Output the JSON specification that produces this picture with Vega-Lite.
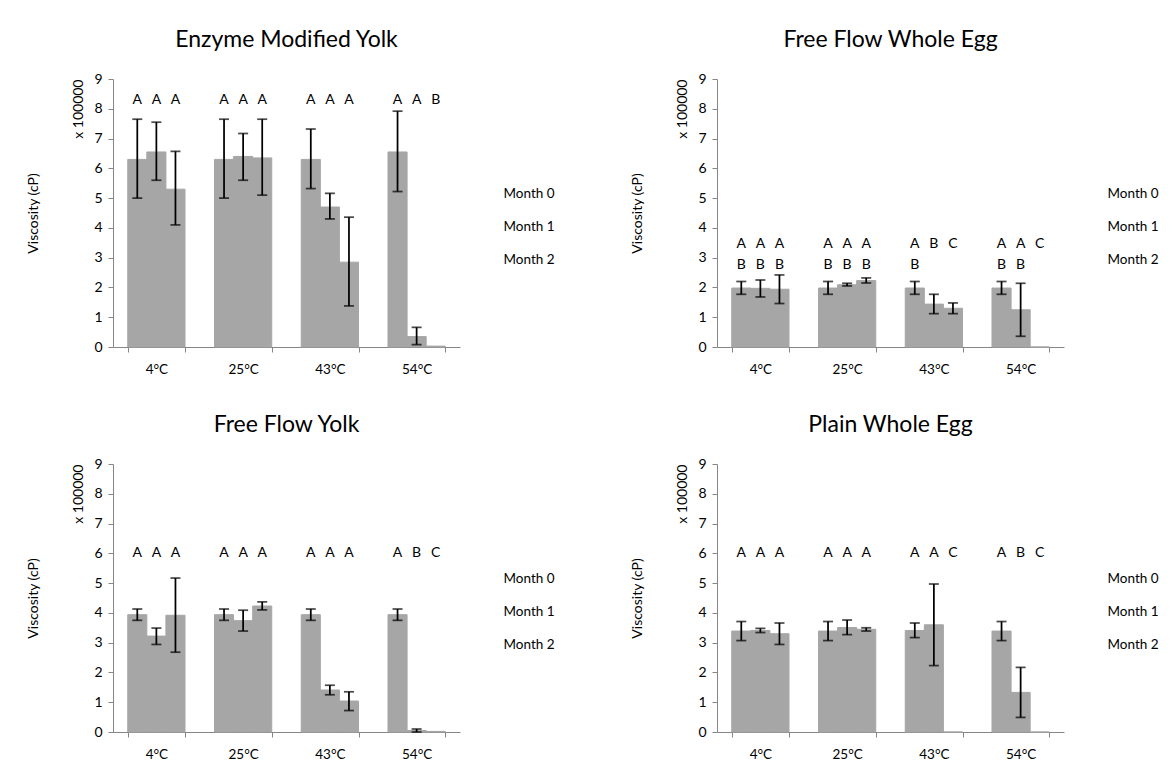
{
  "$schema": "https://vega.github.io/schema/vega-lite/v6.json",
  "padding": {"left": 26, "top": 29, "right": 0, "bottom": 0},
  "datasets": {
    "bars": [
      {"panel": "EMY", "temp": "4°C", "month": "Month 0", "v": 6.3, "lo": 5.0, "hi": 7.65},
      {"panel": "EMY", "temp": "4°C", "month": "Month 1", "v": 6.55, "lo": 5.6, "hi": 7.55},
      {"panel": "EMY", "temp": "4°C", "month": "Month 2", "v": 5.3, "lo": 4.1, "hi": 6.57},
      {"panel": "EMY", "temp": "25°C", "month": "Month 0", "v": 6.3, "lo": 5.0, "hi": 7.65},
      {"panel": "EMY", "temp": "25°C", "month": "Month 1", "v": 6.4, "lo": 5.6, "hi": 7.17},
      {"panel": "EMY", "temp": "25°C", "month": "Month 2", "v": 6.35, "lo": 5.1, "hi": 7.65},
      {"panel": "EMY", "temp": "43°C", "month": "Month 0", "v": 6.3, "lo": 5.32, "hi": 7.32},
      {"panel": "EMY", "temp": "43°C", "month": "Month 1", "v": 4.7, "lo": 4.3, "hi": 5.16},
      {"panel": "EMY", "temp": "43°C", "month": "Month 2", "v": 2.85, "lo": 1.38, "hi": 4.36},
      {"panel": "EMY", "temp": "54°C", "month": "Month 0", "v": 6.55, "lo": 5.22, "hi": 7.92},
      {"panel": "EMY", "temp": "54°C", "month": "Month 1", "v": 0.35, "lo": 0.08, "hi": 0.66},
      {"panel": "EMY", "temp": "54°C", "month": "Month 2", "v": 0.03, "lo": null, "hi": null},

      {"panel": "FFWE", "temp": "4°C", "month": "Month 0", "v": 1.98, "lo": 1.77, "hi": 2.2},
      {"panel": "FFWE", "temp": "4°C", "month": "Month 1", "v": 1.97, "lo": 1.68, "hi": 2.25},
      {"panel": "FFWE", "temp": "4°C", "month": "Month 2", "v": 1.94, "lo": 1.46, "hi": 2.42},
      {"panel": "FFWE", "temp": "25°C", "month": "Month 0", "v": 1.98, "lo": 1.77, "hi": 2.2},
      {"panel": "FFWE", "temp": "25°C", "month": "Month 1", "v": 2.09, "lo": 2.05, "hi": 2.14},
      {"panel": "FFWE", "temp": "25°C", "month": "Month 2", "v": 2.23, "lo": 2.15, "hi": 2.32},
      {"panel": "FFWE", "temp": "43°C", "month": "Month 0", "v": 1.98, "lo": 1.77, "hi": 2.2},
      {"panel": "FFWE", "temp": "43°C", "month": "Month 1", "v": 1.44, "lo": 1.12, "hi": 1.77},
      {"panel": "FFWE", "temp": "43°C", "month": "Month 2", "v": 1.3, "lo": 1.12, "hi": 1.48},
      {"panel": "FFWE", "temp": "54°C", "month": "Month 0", "v": 1.98, "lo": 1.77, "hi": 2.2},
      {"panel": "FFWE", "temp": "54°C", "month": "Month 1", "v": 1.25, "lo": 0.36, "hi": 2.14},
      {"panel": "FFWE", "temp": "54°C", "month": "Month 2", "v": 0, "lo": null, "hi": null},

      {"panel": "FFY", "temp": "4°C", "month": "Month 0", "v": 3.94, "lo": 3.75, "hi": 4.13},
      {"panel": "FFY", "temp": "4°C", "month": "Month 1", "v": 3.22, "lo": 2.94, "hi": 3.49},
      {"panel": "FFY", "temp": "4°C", "month": "Month 2", "v": 3.92, "lo": 2.68, "hi": 5.17},
      {"panel": "FFY", "temp": "25°C", "month": "Month 0", "v": 3.94, "lo": 3.75, "hi": 4.13},
      {"panel": "FFY", "temp": "25°C", "month": "Month 1", "v": 3.74, "lo": 3.39, "hi": 4.09},
      {"panel": "FFY", "temp": "25°C", "month": "Month 2", "v": 4.23, "lo": 4.1, "hi": 4.37},
      {"panel": "FFY", "temp": "43°C", "month": "Month 0", "v": 3.94, "lo": 3.75, "hi": 4.13},
      {"panel": "FFY", "temp": "43°C", "month": "Month 1", "v": 1.41, "lo": 1.25, "hi": 1.57},
      {"panel": "FFY", "temp": "43°C", "month": "Month 2", "v": 1.04, "lo": 0.72, "hi": 1.35},
      {"panel": "FFY", "temp": "54°C", "month": "Month 0", "v": 3.94, "lo": 3.75, "hi": 4.13},
      {"panel": "FFY", "temp": "54°C", "month": "Month 1", "v": 0.05, "lo": 0.0, "hi": 0.1},
      {"panel": "FFY", "temp": "54°C", "month": "Month 2", "v": 0.02, "lo": null, "hi": null},

      {"panel": "PWE", "temp": "4°C", "month": "Month 0", "v": 3.39, "lo": 3.07, "hi": 3.71},
      {"panel": "PWE", "temp": "4°C", "month": "Month 1", "v": 3.41, "lo": 3.34, "hi": 3.48},
      {"panel": "PWE", "temp": "4°C", "month": "Month 2", "v": 3.3, "lo": 2.94, "hi": 3.66},
      {"panel": "PWE", "temp": "25°C", "month": "Month 0", "v": 3.39, "lo": 3.07, "hi": 3.71},
      {"panel": "PWE", "temp": "25°C", "month": "Month 1", "v": 3.51, "lo": 3.27, "hi": 3.76},
      {"panel": "PWE", "temp": "25°C", "month": "Month 2", "v": 3.45, "lo": 3.39, "hi": 3.5},
      {"panel": "PWE", "temp": "43°C", "month": "Month 0", "v": 3.41, "lo": 3.17, "hi": 3.66},
      {"panel": "PWE", "temp": "43°C", "month": "Month 1", "v": 3.6, "lo": 2.23, "hi": 4.97},
      {"panel": "PWE", "temp": "43°C", "month": "Month 2", "v": 0, "lo": null, "hi": null},
      {"panel": "PWE", "temp": "54°C", "month": "Month 0", "v": 3.39, "lo": 3.07, "hi": 3.71},
      {"panel": "PWE", "temp": "54°C", "month": "Month 1", "v": 1.33, "lo": 0.49, "hi": 2.17},
      {"panel": "PWE", "temp": "54°C", "month": "Month 2", "v": 0, "lo": null, "hi": null}
    ],
    "letters": [
      {"panel": "EMY", "temp": "4°C", "month": "Month 0", "letter": "A", "ly": 8.3},
      {"panel": "EMY", "temp": "4°C", "month": "Month 1", "letter": "A", "ly": 8.3},
      {"panel": "EMY", "temp": "4°C", "month": "Month 2", "letter": "A", "ly": 8.3},
      {"panel": "EMY", "temp": "25°C", "month": "Month 0", "letter": "A", "ly": 8.3},
      {"panel": "EMY", "temp": "25°C", "month": "Month 1", "letter": "A", "ly": 8.3},
      {"panel": "EMY", "temp": "25°C", "month": "Month 2", "letter": "A", "ly": 8.3},
      {"panel": "EMY", "temp": "43°C", "month": "Month 0", "letter": "A", "ly": 8.3},
      {"panel": "EMY", "temp": "43°C", "month": "Month 1", "letter": "A", "ly": 8.3},
      {"panel": "EMY", "temp": "43°C", "month": "Month 2", "letter": "A", "ly": 8.3},
      {"panel": "EMY", "temp": "54°C", "month": "Month 0", "letter": "A", "ly": 8.3},
      {"panel": "EMY", "temp": "54°C", "month": "Month 1", "letter": "A", "ly": 8.3},
      {"panel": "EMY", "temp": "54°C", "month": "Month 2", "letter": "B", "ly": 8.3},

      {"panel": "FFWE", "temp": "4°C", "month": "Month 0", "letter": "A", "ly": 3.45},
      {"panel": "FFWE", "temp": "4°C", "month": "Month 0", "letter": "B", "ly": 2.76},
      {"panel": "FFWE", "temp": "4°C", "month": "Month 1", "letter": "A", "ly": 3.45},
      {"panel": "FFWE", "temp": "4°C", "month": "Month 1", "letter": "B", "ly": 2.76},
      {"panel": "FFWE", "temp": "4°C", "month": "Month 2", "letter": "A", "ly": 3.45},
      {"panel": "FFWE", "temp": "4°C", "month": "Month 2", "letter": "B", "ly": 2.76},
      {"panel": "FFWE", "temp": "25°C", "month": "Month 0", "letter": "A", "ly": 3.45},
      {"panel": "FFWE", "temp": "25°C", "month": "Month 0", "letter": "B", "ly": 2.76},
      {"panel": "FFWE", "temp": "25°C", "month": "Month 1", "letter": "A", "ly": 3.45},
      {"panel": "FFWE", "temp": "25°C", "month": "Month 1", "letter": "B", "ly": 2.76},
      {"panel": "FFWE", "temp": "25°C", "month": "Month 2", "letter": "A", "ly": 3.45},
      {"panel": "FFWE", "temp": "25°C", "month": "Month 2", "letter": "B", "ly": 2.76},
      {"panel": "FFWE", "temp": "43°C", "month": "Month 0", "letter": "A", "ly": 3.45},
      {"panel": "FFWE", "temp": "43°C", "month": "Month 0", "letter": "B", "ly": 2.76},
      {"panel": "FFWE", "temp": "43°C", "month": "Month 1", "letter": "B", "ly": 3.45},
      {"panel": "FFWE", "temp": "43°C", "month": "Month 2", "letter": "C", "ly": 3.45},
      {"panel": "FFWE", "temp": "54°C", "month": "Month 0", "letter": "A", "ly": 3.45},
      {"panel": "FFWE", "temp": "54°C", "month": "Month 0", "letter": "B", "ly": 2.76},
      {"panel": "FFWE", "temp": "54°C", "month": "Month 1", "letter": "A", "ly": 3.45},
      {"panel": "FFWE", "temp": "54°C", "month": "Month 1", "letter": "B", "ly": 2.76},
      {"panel": "FFWE", "temp": "54°C", "month": "Month 2", "letter": "C", "ly": 3.45},

      {"panel": "FFY", "temp": "4°C", "month": "Month 0", "letter": "A", "ly": 6.0},
      {"panel": "FFY", "temp": "4°C", "month": "Month 1", "letter": "A", "ly": 6.0},
      {"panel": "FFY", "temp": "4°C", "month": "Month 2", "letter": "A", "ly": 6.0},
      {"panel": "FFY", "temp": "25°C", "month": "Month 0", "letter": "A", "ly": 6.0},
      {"panel": "FFY", "temp": "25°C", "month": "Month 1", "letter": "A", "ly": 6.0},
      {"panel": "FFY", "temp": "25°C", "month": "Month 2", "letter": "A", "ly": 6.0},
      {"panel": "FFY", "temp": "43°C", "month": "Month 0", "letter": "A", "ly": 6.0},
      {"panel": "FFY", "temp": "43°C", "month": "Month 1", "letter": "A", "ly": 6.0},
      {"panel": "FFY", "temp": "43°C", "month": "Month 2", "letter": "A", "ly": 6.0},
      {"panel": "FFY", "temp": "54°C", "month": "Month 0", "letter": "A", "ly": 6.0},
      {"panel": "FFY", "temp": "54°C", "month": "Month 1", "letter": "B", "ly": 6.0},
      {"panel": "FFY", "temp": "54°C", "month": "Month 2", "letter": "C", "ly": 6.0},

      {"panel": "PWE", "temp": "4°C", "month": "Month 0", "letter": "A", "ly": 6.0},
      {"panel": "PWE", "temp": "4°C", "month": "Month 1", "letter": "A", "ly": 6.0},
      {"panel": "PWE", "temp": "4°C", "month": "Month 2", "letter": "A", "ly": 6.0},
      {"panel": "PWE", "temp": "25°C", "month": "Month 0", "letter": "A", "ly": 6.0},
      {"panel": "PWE", "temp": "25°C", "month": "Month 1", "letter": "A", "ly": 6.0},
      {"panel": "PWE", "temp": "25°C", "month": "Month 2", "letter": "A", "ly": 6.0},
      {"panel": "PWE", "temp": "43°C", "month": "Month 0", "letter": "A", "ly": 6.0},
      {"panel": "PWE", "temp": "43°C", "month": "Month 1", "letter": "A", "ly": 6.0},
      {"panel": "PWE", "temp": "43°C", "month": "Month 2", "letter": "C", "ly": 6.0},
      {"panel": "PWE", "temp": "54°C", "month": "Month 0", "letter": "A", "ly": 6.0},
      {"panel": "PWE", "temp": "54°C", "month": "Month 1", "letter": "B", "ly": 6.0},
      {"panel": "PWE", "temp": "54°C", "month": "Month 2", "letter": "C", "ly": 6.0}
    ]
  },
  "columns": 2,
  "spacing": {"row": 38, "column": 75},
  "resolve": {"scale": {"color": "independent"}, "legend": {"color": "independent"}},
  "concat": [
    {
      "title": "Enzyme Modified Yolk",
      "width": 347, "height": 268,
      "encoding": {
        "x": {"field": "temp", "type": "nominal", "sort": ["4°C", "25°C", "43°C", "54°C"], "title": null, "scale": {"paddingInner": 0.34, "paddingOuter": 0.17}},
        "xOffset": {"field": "month", "type": "nominal", "scale": {"paddingInner": 0, "paddingOuter": 0}}
      },
      "layer": [
        {"data": {"name": "bars"}, "transform": [{"filter": "datum.panel === 'EMY'"}],
         "mark": {"type": "bar", "stroke": "#a6a6a6", "strokeWidth": 1},
         "encoding": {
           "y": {"field": "v", "type": "quantitative", "scale": {"domain": [0, 9], "nice": false},
                 "axis": {"orient": "left", "title": "x 100000", "titleAnchor": "end", "values": [0, 1, 2, 3, 4, 5, 6, 7, 8, 9], "titlePadding": 8}},
           "color": {"field": "month", "type": "nominal", "scale": {"range": ["#a6a6a6", "#a6a6a6", "#a6a6a6"]},
                     "legend": {"orient": "none", "legendX": 377, "legendY": 108}}
         }},
        {"data": {"name": "bars"}, "transform": [{"filter": "datum.panel === 'EMY'"}],
         "mark": {"type": "rule", "color": "#000000", "strokeWidth": 1.75},
         "encoding": {
           "y": {"field": "lo", "type": "quantitative", "axis": {"orient": "left", "title": "Viscosity (cP)", "labels": false, "ticks": false, "domain": false, "titlePadding": 73}},
           "y2": {"field": "hi"}
         }},
        {"data": {"name": "bars"}, "transform": [{"filter": "datum.panel === 'EMY'"}],
         "mark": {"type": "tick", "color": "#000000", "thickness": 1.75, "size": 10, "orient": "horizontal"},
         "encoding": {"y": {"field": "lo", "type": "quantitative", "axis": null}}},
        {"data": {"name": "bars"}, "transform": [{"filter": "datum.panel === 'EMY'"}],
         "mark": {"type": "tick", "color": "#000000", "thickness": 1.75, "size": 10, "orient": "horizontal"},
         "encoding": {"y": {"field": "hi", "type": "quantitative", "axis": null}}},
        {"data": {"name": "letters"}, "transform": [{"filter": "datum.panel === 'EMY'"}],
         "mark": {"type": "text", "fontSize": 14, "baseline": "middle", "color": "#000000"},
         "encoding": {"y": {"field": "ly", "type": "quantitative", "axis": null}, "text": {"field": "letter"}}}
      ],
      "resolve": {"axis": {"y": "independent"}}
    },
    {
      "title": "Free Flow Whole Egg",
      "width": 347, "height": 268,
      "encoding": {
        "x": {"field": "temp", "type": "nominal", "sort": ["4°C", "25°C", "43°C", "54°C"], "title": null, "scale": {"paddingInner": 0.34, "paddingOuter": 0.17}},
        "xOffset": {"field": "month", "type": "nominal", "scale": {"paddingInner": 0, "paddingOuter": 0}}
      },
      "layer": [
        {"data": {"name": "bars"}, "transform": [{"filter": "datum.panel === 'FFWE'"}],
         "mark": {"type": "bar", "stroke": "#a6a6a6", "strokeWidth": 1},
         "encoding": {
           "y": {"field": "v", "type": "quantitative", "scale": {"domain": [0, 9], "nice": false},
                 "axis": {"orient": "left", "title": "x 100000", "titleAnchor": "end", "values": [0, 1, 2, 3, 4, 5, 6, 7, 8, 9], "titlePadding": 8}},
           "color": {"field": "month", "type": "nominal", "scale": {"range": ["#a6a6a6", "#a6a6a6", "#a6a6a6"]},
                     "legend": {"orient": "none", "legendX": 377, "legendY": 108}}
         }},
        {"data": {"name": "bars"}, "transform": [{"filter": "datum.panel === 'FFWE'"}],
         "mark": {"type": "rule", "color": "#000000", "strokeWidth": 1.75},
         "encoding": {
           "y": {"field": "lo", "type": "quantitative", "axis": {"orient": "left", "title": "Viscosity (cP)", "labels": false, "ticks": false, "domain": false, "titlePadding": 73}},
           "y2": {"field": "hi"}
         }},
        {"data": {"name": "bars"}, "transform": [{"filter": "datum.panel === 'FFWE'"}],
         "mark": {"type": "tick", "color": "#000000", "thickness": 1.75, "size": 10, "orient": "horizontal"},
         "encoding": {"y": {"field": "lo", "type": "quantitative", "axis": null}}},
        {"data": {"name": "bars"}, "transform": [{"filter": "datum.panel === 'FFWE'"}],
         "mark": {"type": "tick", "color": "#000000", "thickness": 1.75, "size": 10, "orient": "horizontal"},
         "encoding": {"y": {"field": "hi", "type": "quantitative", "axis": null}}},
        {"data": {"name": "letters"}, "transform": [{"filter": "datum.panel === 'FFWE'"}],
         "mark": {"type": "text", "fontSize": 14, "baseline": "middle", "color": "#000000"},
         "encoding": {"y": {"field": "ly", "type": "quantitative", "axis": null}, "text": {"field": "letter"}}}
      ],
      "resolve": {"axis": {"y": "independent"}}
    },
    {
      "title": "Free Flow Yolk",
      "width": 347, "height": 268,
      "encoding": {
        "x": {"field": "temp", "type": "nominal", "sort": ["4°C", "25°C", "43°C", "54°C"], "title": null, "scale": {"paddingInner": 0.34, "paddingOuter": 0.17}},
        "xOffset": {"field": "month", "type": "nominal", "scale": {"paddingInner": 0, "paddingOuter": 0}}
      },
      "layer": [
        {"data": {"name": "bars"}, "transform": [{"filter": "datum.panel === 'FFY'"}],
         "mark": {"type": "bar", "stroke": "#a6a6a6", "strokeWidth": 1},
         "encoding": {
           "y": {"field": "v", "type": "quantitative", "scale": {"domain": [0, 9], "nice": false},
                 "axis": {"orient": "left", "title": "x 100000", "titleAnchor": "end", "values": [0, 1, 2, 3, 4, 5, 6, 7, 8, 9], "titlePadding": 8}},
           "color": {"field": "month", "type": "nominal", "scale": {"range": ["#a6a6a6", "#a6a6a6", "#a6a6a6"]},
                     "legend": {"orient": "none", "legendX": 377, "legendY": 108}}
         }},
        {"data": {"name": "bars"}, "transform": [{"filter": "datum.panel === 'FFY'"}],
         "mark": {"type": "rule", "color": "#000000", "strokeWidth": 1.75},
         "encoding": {
           "y": {"field": "lo", "type": "quantitative", "axis": {"orient": "left", "title": "Viscosity (cP)", "labels": false, "ticks": false, "domain": false, "titlePadding": 73}},
           "y2": {"field": "hi"}
         }},
        {"data": {"name": "bars"}, "transform": [{"filter": "datum.panel === 'FFY'"}],
         "mark": {"type": "tick", "color": "#000000", "thickness": 1.75, "size": 10, "orient": "horizontal"},
         "encoding": {"y": {"field": "lo", "type": "quantitative", "axis": null}}},
        {"data": {"name": "bars"}, "transform": [{"filter": "datum.panel === 'FFY'"}],
         "mark": {"type": "tick", "color": "#000000", "thickness": 1.75, "size": 10, "orient": "horizontal"},
         "encoding": {"y": {"field": "hi", "type": "quantitative", "axis": null}}},
        {"data": {"name": "letters"}, "transform": [{"filter": "datum.panel === 'FFY'"}],
         "mark": {"type": "text", "fontSize": 14, "baseline": "middle", "color": "#000000"},
         "encoding": {"y": {"field": "ly", "type": "quantitative", "axis": null}, "text": {"field": "letter"}}}
      ],
      "resolve": {"axis": {"y": "independent"}}
    },
    {
      "title": "Plain Whole Egg",
      "width": 347, "height": 268,
      "encoding": {
        "x": {"field": "temp", "type": "nominal", "sort": ["4°C", "25°C", "43°C", "54°C"], "title": null, "scale": {"paddingInner": 0.34, "paddingOuter": 0.17}},
        "xOffset": {"field": "month", "type": "nominal", "scale": {"paddingInner": 0, "paddingOuter": 0}}
      },
      "layer": [
        {"data": {"name": "bars"}, "transform": [{"filter": "datum.panel === 'PWE'"}],
         "mark": {"type": "bar", "stroke": "#a6a6a6", "strokeWidth": 1},
         "encoding": {
           "y": {"field": "v", "type": "quantitative", "scale": {"domain": [0, 9], "nice": false},
                 "axis": {"orient": "left", "title": "x 100000", "titleAnchor": "end", "values": [0, 1, 2, 3, 4, 5, 6, 7, 8, 9], "titlePadding": 8}},
           "color": {"field": "month", "type": "nominal", "scale": {"range": ["#a6a6a6", "#a6a6a6", "#a6a6a6"]},
                     "legend": {"orient": "none", "legendX": 377, "legendY": 108}}
         }},
        {"data": {"name": "bars"}, "transform": [{"filter": "datum.panel === 'PWE'"}],
         "mark": {"type": "rule", "color": "#000000", "strokeWidth": 1.75},
         "encoding": {
           "y": {"field": "lo", "type": "quantitative", "axis": {"orient": "left", "title": "Viscosity (cP)", "labels": false, "ticks": false, "domain": false, "titlePadding": 73}},
           "y2": {"field": "hi"}
         }},
        {"data": {"name": "bars"}, "transform": [{"filter": "datum.panel === 'PWE'"}],
         "mark": {"type": "tick", "color": "#000000", "thickness": 1.75, "size": 10, "orient": "horizontal"},
         "encoding": {"y": {"field": "lo", "type": "quantitative", "axis": null}}},
        {"data": {"name": "bars"}, "transform": [{"filter": "datum.panel === 'PWE'"}],
         "mark": {"type": "tick", "color": "#000000", "thickness": 1.75, "size": 10, "orient": "horizontal"},
         "encoding": {"y": {"field": "hi", "type": "quantitative", "axis": null}}},
        {"data": {"name": "letters"}, "transform": [{"filter": "datum.panel === 'PWE'"}],
         "mark": {"type": "text", "fontSize": 14, "baseline": "middle", "color": "#000000"},
         "encoding": {"y": {"field": "ly", "type": "quantitative", "axis": null}, "text": {"field": "letter"}}}
      ],
      "resolve": {"axis": {"y": "independent"}}
    }
  ],
  "config": {
    "font": "Lato",
    "view": {"stroke": null},
    "title": {"fontSize": 23, "fontWeight": "normal", "color": "#000000", "font": "Lato", "offset": 20},
    "axis": {"grid": false, "domainColor": "#868686", "tickColor": "#868686", "labelColor": "#000000", "labelFontSize": 14, "labelFont": "Lato", "titleFont": "Lato", "titleFontSize": 14, "titleFontWeight": "normal", "titleColor": "#000000", "tickSize": 5},
    "axisX": {"labelAngle": 0, "tickBand": "extent", "labelPadding": 10, "labelFontSize": 13.5},
    "axisY": {"labelPadding": 6},
    "legend": {"title": null, "symbolOpacity": 0, "symbolStrokeWidth": 0, "symbolSize": 1, "labelFontSize": 13.5, "labelFont": "Lato", "labelColor": "#000000", "labelOffset": 0, "rowPadding": 18, "symbolType": "square"}
  }
}
